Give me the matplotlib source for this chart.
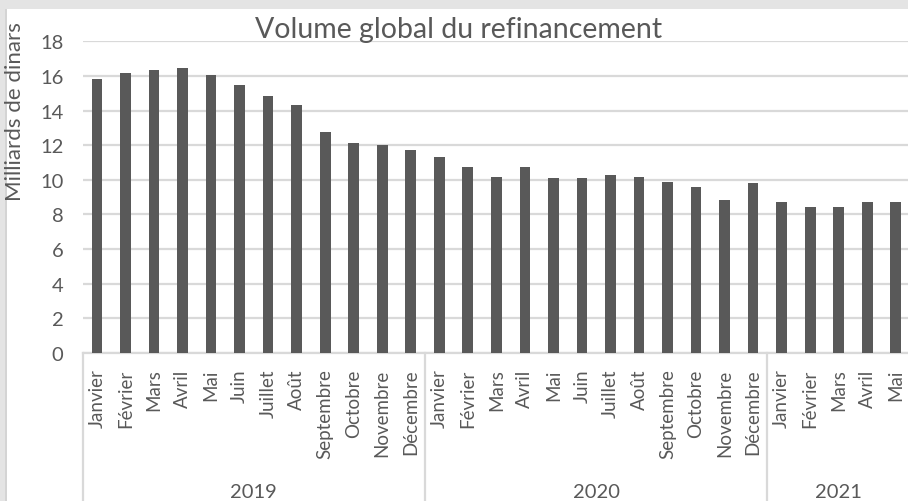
import numpy as np
import matplotlib
matplotlib.use('agg')
import matplotlib.pyplot as plt
from matplotlib.patches import Rectangle
import matplotlib.transforms as mtransforms

plt.rcParams['font.family'] = ['Lato', 'DejaVu Sans']

mois = ['Janvier', 'Février', 'Mars', 'Avril', 'Mai', 'Juin', 'Juillet',
        'Août', 'Septembre', 'Octobre', 'Novembre', 'Décembre']
months = mois + mois + mois[:5]
years = ['2019', '2020', '2021']
year_counts = [12, 12, 5]
volume = [15.82, 16.17, 16.36, 16.47, 16.07, 15.48, 14.86, 14.32, 12.77, 12.13,
          12.03, 11.75,
          11.31, 10.73, 10.19, 10.75, 10.10, 10.12, 10.29, 10.17, 9.88, 9.58,
          8.85, 9.83,
          8.71, 8.44, 8.44, 8.73, 8.71]

txt = '#595959'
grid = '#d9d9d9'

fig = plt.figure(figsize=(9.08, 5.02), dpi=100)
fig.patch.set_facecolor('#e4e4e4')
# white chart area with thin grey left edge
fig.patches.append(Rectangle((7 / 908, 0), 1, 1 - 10 / 502, transform=fig.transFigure,
                             facecolor='white', edgecolor='none', zorder=-2))
fig.patches.append(Rectangle((5 / 908, 0), 2 / 908, 1 - 10 / 502, transform=fig.transFigure,
                             facecolor='#d4d4d4', edgecolor='none', zorder=-2))

ax = fig.add_axes([82.7 / 908, 1 - 354 / 502, (910 - 82.7) / 908, (354 - 42.3) / 502])
ax.set_facecolor('none')

x = np.arange(len(months))
ax.bar(x, volume, width=0.375, color='#595959', zorder=3)

ax.set_xlim(-0.5, len(months) - 0.5)
ax.set_ylim(0, 18)
ax.set_yticks(range(0, 19, 2))
ax.yaxis.grid(True, color=grid, linewidth=1.6, zorder=0)
ax.tick_params(axis='y', length=0, pad=14, labelsize=14.5, labelcolor=txt)

ax.set_xticks(x)
ax.set_xticklabels(months, rotation=90, va='top', ha='center')
ax.tick_params(axis='x', length=0, pad=11, labelsize=13.5, labelcolor=txt)

for s in ['top', 'right', 'left']:
    ax.spines[s].set_visible(False)
ax.spines['bottom'].set_color(grid)
ax.spines['bottom'].set_linewidth(1.6)

# year level of the category axis
trans = mtransforms.blended_transform_factory(ax.transData, ax.transAxes)
bottom = -(502 - 354) / (354 - 42.3)
start = 0
edges = [-0.5]
for yr, n in zip(years, year_counts):
    edges.append(start + n - 0.5)
    ax.text(start + (n - 1) / 2, -0.445, yr, transform=trans, ha='center',
            va='center', fontsize=14.5, color=txt)
    start += n
for e in edges:
    ax.plot([e, e], [0, bottom], transform=trans, color=grid, linewidth=1.6,
            clip_on=False)

fig.text(459 / 908, 1 - 30 / 502, 'Volume global du refinancement', ha='center',
         va='center', fontsize=20.5, color=txt)
fig.text(15 / 908, 1 - 112 / 502, 'Milliards de dinars', rotation=90, ha='center',
         va='center', fontsize=16, color=txt)

fig.savefig('out.png', dpi=100, facecolor=fig.get_facecolor())
